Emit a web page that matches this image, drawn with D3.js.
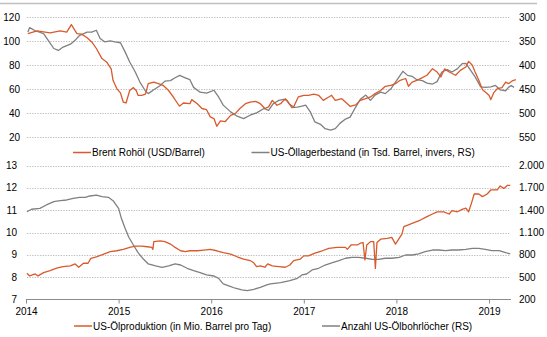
<!DOCTYPE html>
<html>
<head>
<meta charset="utf-8">
<script src="https://cdn.jsdelivr.net/npm/d3@7"></script>
<style>
    body { margin: 0; background: #fff; }
    #chart text { font-family: "Liberation Sans", Arial, sans-serif; font-size: 10px; fill: #000; }
</style>
</head>
<body>
<svg id="chart" width="547" height="337"></svg>
<script>
    // Brent (USD/Barrel), weekly-ish samples as [year fraction, value]
    const brent = [[2014.02,106.4],[2014.12,108.6],[2014.26,107],[2014.37,108.6],[2014.44,107.6],[2014.49,113.9],[2014.55,106.4],[2014.60,106],[2014.66,103],[2014.71,99.5],[2014.76,94],[2014.82,85.6],[2014.87,82.8],[2014.92,77],[2014.94,67.5],[2014.98,60.6],[2015.02,57],[2015.05,49.4],[2015.08,48.6],[2015.12,59],[2015.16,61.4],[2015.19,59],[2015.21,55],[2015.25,55],[2015.29,56],[2015.32,64.7],[2015.38,66],[2015.43,64.7],[2015.48,63.3],[2015.54,59],[2015.59,53.6],[2015.65,46.7],[2015.66,46],[2015.70,48.6],[2015.77,48],[2015.79,51.4],[2015.85,48],[2015.90,44],[2015.95,43],[2015.99,37],[2016.03,35.6],[2016.06,29.2],[2016.10,33.6],[2016.15,33],[2016.21,38.3],[2016.26,39.7],[2016.31,44],[2016.37,48],[2016.42,49.4],[2016.48,50],[2016.53,48],[2016.58,44],[2016.62,45.3],[2016.66,50.8],[2016.71,46.7],[2016.75,48],[2016.80,52.2],[2016.84,48],[2016.89,45.3],[2016.94,53.6],[2017.00,55],[2017.05,55],[2017.11,56],[2017.16,55],[2017.21,50.8],[2017.27,53.6],[2017.30,55],[2017.34,50.8],[2017.41,52.2],[2017.47,48],[2017.50,45.8],[2017.56,47],[2017.61,50.8],[2017.66,52],[2017.72,53.6],[2017.77,56.4],[2017.83,59],[2017.88,62.5],[2017.94,63.3],[2017.99,64.7],[2018.04,67.5],[2018.10,69],[2018.13,62.5],[2018.17,66],[2018.22,67.5],[2018.28,69.7],[2018.33,71.7],[2018.39,77.2],[2018.44,74.4],[2018.48,70.3],[2018.52,77],[2018.57,74.4],[2018.64,71.7],[2018.69,75.8],[2018.75,78.6],[2018.78,83.3],[2018.82,80],[2018.85,74.4],[2018.89,67.5],[2018.93,59.7],[2018.96,57.8],[2019.00,55],[2019.02,51.4],[2019.05,57],[2019.09,60.6],[2019.14,61.4],[2019.18,66],[2019.21,64.7],[2019.25,67],[2019.29,68]];

    // US crude stocks (mn barrels), plotted on an inverted right axis
    const stocks = [[2014.02,330.6],[2014.04,321.5],[2014.10,328],[2014.19,334],[2014.24,348],[2014.30,365],[2014.35,369],[2014.40,362],[2014.48,356],[2014.53,348],[2014.58,337.5],[2014.66,331],[2014.71,331],[2014.76,327],[2014.80,344],[2014.85,351],[2014.91,349],[2014.96,351],[2015.02,353],[2015.07,372],[2015.12,393],[2015.18,414],[2015.23,435],[2015.29,453.5],[2015.32,459],[2015.38,451],[2015.45,442],[2015.50,433],[2015.56,432],[2015.61,426],[2015.66,421],[2015.72,426],[2015.77,430],[2015.81,446],[2015.88,456],[2015.95,458],[2016.03,452],[2016.08,466],[2016.13,483],[2016.21,497],[2016.28,506],[2016.35,511],[2016.42,504],[2016.49,499],[2016.57,490],[2016.62,494],[2016.67,480],[2016.73,473],[2016.78,471],[2016.82,473],[2016.87,488],[2016.93,487],[2016.98,485],[2017.02,483],[2017.07,497],[2017.12,518],[2017.18,523],[2017.23,532],[2017.29,535],[2017.34,532],[2017.39,521],[2017.45,512],[2017.50,508],[2017.56,487],[2017.61,471],[2017.67,462],[2017.72,473],[2017.77,462],[2017.83,456],[2017.88,459],[2017.94,449],[2017.99,435],[2018.04,421],[2018.07,412.5],[2018.12,421],[2018.17,423],[2018.22,430],[2018.28,432],[2018.33,437],[2018.39,439],[2018.44,434],[2018.49,414],[2018.55,409],[2018.60,414],[2018.66,407],[2018.71,396.5],[2018.75,396],[2018.80,410],[2018.85,424],[2018.91,445],[2018.96,446],[2019.02,445],[2019.07,442],[2019.12,451],[2019.18,453],[2019.21,446],[2019.24,442],[2019.27,446]];

    // US crude output (mn barrels per day)
    const production = [[2014.01,8.17],[2014.04,8.05],[2014.10,8.14],[2014.13,8.05],[2014.19,8.2],[2014.26,8.29],[2014.33,8.4],[2014.40,8.47],[2014.48,8.5],[2014.53,8.59],[2014.57,8.44],[2014.62,8.62],[2014.67,8.62],[2014.70,8.84],[2014.76,8.91],[2014.84,9.03],[2014.91,9.14],[2014.98,9.18],[2015.05,9.24],[2015.12,9.33],[2015.18,9.39],[2015.25,9.39],[2015.31,9.36],[2015.36,9.33],[2015.37,9.24],[2015.38,9.59],[2015.45,9.62],[2015.50,9.59],[2015.56,9.48],[2015.61,9.33],[2015.67,9.18],[2015.72,9.14],[2015.77,9.18],[2015.85,9.18],[2015.92,9.21],[2015.99,9.24],[2016.06,9.18],[2016.13,9.1],[2016.21,9.03],[2016.28,8.91],[2016.35,8.8],[2016.42,8.74],[2016.46,8.64],[2016.49,8.47],[2016.53,8.5],[2016.58,8.44],[2016.61,8.59],[2016.66,8.5],[2016.73,8.47],[2016.80,8.44],[2016.85,8.54],[2016.89,8.74],[2016.96,8.8],[2017.00,8.95],[2017.05,8.95],[2017.12,9.07],[2017.20,9.18],[2017.27,9.29],[2017.36,9.33],[2017.45,9.33],[2017.47,9.24],[2017.51,9.44],[2017.58,9.44],[2017.61,9.52],[2017.64,9.55],[2017.66,8.77],[2017.68,9.44],[2017.72,9.59],[2017.755,9.59],[2017.773,8.39],[2017.79,9.55],[2017.83,9.7],[2017.90,9.74],[2017.95,9.78],[2017.99,9.48],[2018.03,9.74],[2018.06,9.93],[2018.08,10.26],[2018.13,10.34],[2018.19,10.44],[2018.26,10.56],[2018.33,10.71],[2018.39,10.83],[2018.44,10.93],[2018.51,10.93],[2018.57,10.83],[2018.60,10.98],[2018.66,10.93],[2018.71,11.04],[2018.75,11.09],[2018.78,10.93],[2018.81,11.31],[2018.84,11.73],[2018.89,11.73],[2018.93,11.61],[2018.98,11.73],[2019.02,11.91],[2019.09,11.91],[2019.12,12.09],[2019.16,11.98],[2019.20,12.12],[2019.23,12.12]];

    // US oil rig count
    const rigs = [[2014.01,1380],[2014.06,1413],[2014.15,1426],[2014.22,1471],[2014.30,1515],[2014.37,1529],[2014.44,1538],[2014.51,1561],[2014.58,1574],[2014.64,1574],[2014.69,1592],[2014.76,1605],[2014.82,1582],[2014.89,1574],[2014.94,1529],[2015.00,1426],[2015.03,1291],[2015.07,1157],[2015.11,1036],[2015.16,932],[2015.21,828],[2015.27,739],[2015.32,676],[2015.40,649],[2015.47,631],[2015.54,649],[2015.61,676],[2015.67,662],[2015.74,618],[2015.81,586],[2015.88,559],[2015.95,528],[2016.03,514],[2016.08,483],[2016.13,407],[2016.19,380],[2016.26,349],[2016.33,326],[2016.39,316],[2016.46,335],[2016.53,362],[2016.60,393],[2016.64,407],[2016.75,424],[2016.85,451],[2016.93,483],[2016.98,528],[2017.03,541],[2017.09,595],[2017.16,618],[2017.23,662],[2017.31,693],[2017.38,720],[2017.45,753],[2017.52,766],[2017.59,766],[2017.67,753],[2017.74,739],[2017.81,739],[2017.88,753],[2017.95,753],[2018.03,766],[2018.10,797],[2018.17,797],[2018.24,811],[2018.31,842],[2018.39,864],[2018.46,864],[2018.53,855],[2018.60,864],[2018.67,864],[2018.75,874],[2018.82,887],[2018.89,887],[2018.96,874],[2019.03,855],[2019.11,855],[2019.18,828],[2019.23,811]];

    const brentTicks = [20, 40, 60, 80, 100, 120];
    const stockTicks = [300, 350, 400, 450, 500, 550];
    const prodTicks = [7, 8, 9, 10, 11, 12, 13];
    const rigTicks = [200, 500, 800, 1100, 1400, 1700, 2000];
    const yearTicks = [2014, 2015, 2016, 2017, 2018, 2019];

    const orange = "#d95a2c";
    const grey = "#808080";
    const de = d3.formatLocale({ decimal: ",", thousands: ".", grouping: [3], currency: ["", " €"] });
    const fmtInt = de.format(",d");

    const svg = d3.select("#chart");

    const x = d3.scaleLinear().domain([2014, 2019]).range([26, 489]);
    const gridX0 = 27, gridX1 = 510;

    const yBrent = d3.scaleLinear().domain([20, 120]).range([137.3, 17.3]);
    const yStock = d3.scaleLinear().domain([300, 550]).range([17.3, 137.3]);
    const yProd = d3.scaleLinear().domain([7, 13]).range([299.3, 165.7]);
    const yRig = d3.scaleLinear().domain([200, 2000]).range([299.3, 165.7]);

    // frame line on top
    svg.append("line")
        .attr("x1", 0).attr("x2", 537)
        .attr("y1", 3.5).attr("y2", 3.5)
        .attr("stroke", "#c0c0c0")
        .attr("stroke-width", 1.3);

    function grid(scale, ticks, skipLast) {
        svg.append("g").selectAll("line")
            .data(skipLast ? ticks.slice(1) : ticks)
            .join("line")
            .attr("x1", gridX0).attr("x2", gridX1)
            .attr("y1", d => Math.round(scale(d)) + 0.5)
            .attr("y2", d => Math.round(scale(d)) + 0.5)
            .attr("stroke", "#bdbdbd")
            .attr("stroke-width", 1)
            .attr("stroke-dasharray", "1.3,1.3");
    }

    function labels(scale, ticks, xPos, anchor, fmt) {
        svg.append("g").selectAll("text")
            .data(ticks)
            .join("text")
            .attr("x", xPos)
            .attr("y", d => scale(d))
            .attr("dy", "0.35em")
            .attr("text-anchor", anchor)
            .text(fmt);
    }

    // upper panel
    grid(yBrent, brentTicks, false);
    labels(yBrent, brentTicks, 20, "end", d => d);
    labels(yStock, stockTicks, 519, "start", d => d);

    // lower panel
    grid(yProd, prodTicks, true);
    labels(yProd, prodTicks, 17, "end", d => d);
    labels(yRig, rigTicks, 519, "start", fmtInt);

    // x axis of the lower panel
    const xAxis = d3.axisBottom(x)
        .tickValues(yearTicks)
        .tickSize(4)
        .tickFormat(d => d);
    const gx = svg.append("g")
        .attr("transform", "translate(0,299.5)")
        .call(xAxis);
    gx.select(".domain").attr("d", `M${x(2014)},0H511`).attr("stroke", "#8c8c8c");
    gx.selectAll(".tick line").attr("stroke", "#8c8c8c");
    gx.selectAll(".tick text")
        .attr("y", 8)
        .attr("font-family", null)
        .attr("font-size", null)
        .style("font-family", "'Liberation Sans', Arial, sans-serif")
        .style("font-size", "10px")
        .attr("fill", "#000");

    function series(data, yScale, color) {
        svg.append("path")
            .datum(data)
            .attr("fill", "none")
            .attr("stroke", color)
            .attr("stroke-width", 1.3)
            .attr("stroke-linejoin", "round")
            .attr("d", d3.line().x(d => x(d[0])).y(d => yScale(d[1])));
    }

    series(stocks, yStock, grey);
    series(brent, yBrent, orange);
    series(rigs, yRig, grey);
    series(production, yProd, orange);

    // legends
    function legendItem(x0, y0, color, label) {
        svg.append("line")
            .attr("x1", x0).attr("x2", x0 + 18)
            .attr("y1", y0).attr("y2", y0)
            .attr("stroke", color)
            .attr("stroke-width", 1.5);
        svg.append("text")
            .attr("x", x0 + 19)
            .attr("y", y0)
            .attr("dy", "0.35em")
            .text(label);
    }

    legendItem(73, 152.5, orange, "Brent Rohöl (USD/Barrel)");
    legendItem(251.5, 152.5, grey, "US-Öllagerbestand (in Tsd. Barrel, invers, RS)");
    legendItem(74, 326, orange, "US-Ölproduktion (in Mio. Barrel pro Tag)");
    legendItem(322, 326, grey, "Anzahl US-Ölbohrlöcher (RS)");
</script>
</body>
</html>
